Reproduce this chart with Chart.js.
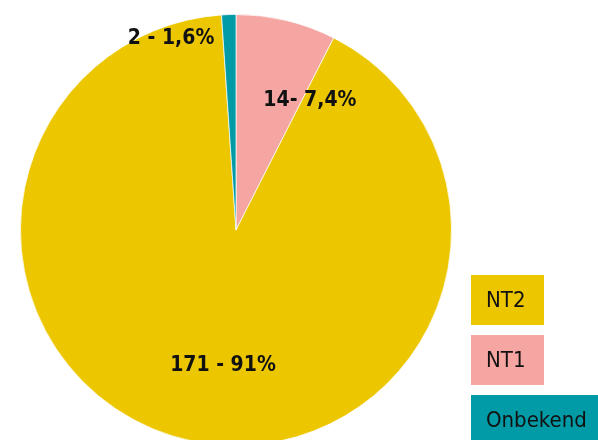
<!DOCTYPE html>
<html>
<head>
<meta charset="utf-8">
<script src="https://cdn.jsdelivr.net/npm/chart.js@4"></script>
<style>
  html, body { margin: 0; padding: 0; background: #fff; overflow: hidden; }
  #wrap { position: relative; width: 598px; height: 446px; }
</style>
</head>
<body>
<div id="wrap"><canvas id="chart"></canvas></div>
<script>
// slice order, clockwise from the top
const categories = ["NT1", "NT2", "Onbekend"]
const counts = [14, 171, 2]
const sliceLabels = ["14- 7,4%", "171 - 91%", "2 - 1,6%"]
const colors = ["#F5A6A3", "#ECC700", "#009BA7"]

// legend order as shown on the right
const legendOrder = ["NT2", "NT1", "Onbekend"]

// label anchor per slice: angle from top (deg) and fraction of radius
const labelSpots = [
  { angle: 29.8, frac: 0.69 },
  { angle: 185.5, frac: 0.63 },
  { angle: -18.7, frac: 0.94 }
]

const sliceText = {
  id: "sliceText",
  afterDatasetsDraw(chart) {
    const ctx = chart.ctx
    const arcs = chart.getDatasetMeta(0).data
    ctx.save()
    ctx.font = "bold 21px 'Liberation Sans Narrow', 'DejaVu Sans Condensed', sans-serif"
    ctx.fillStyle = "#111"
    ctx.textAlign = "center"
    ctx.textBaseline = "middle"
    arcs.forEach((arc, i) => {
      const spot = labelSpots[i]
      const a = spot.angle * Math.PI / 180
      const r = arc.outerRadius * spot.frac
      ctx.fillText(sliceLabels[i], arc.x + r * Math.sin(a), arc.y - r * Math.cos(a))
    })
    ctx.restore()
  }
}

const boxLegend = {
  id: "boxLegend",
  afterDraw(chart) {
    const ctx = chart.ctx
    ctx.save()
    ctx.font = "22px 'DejaVu Sans Condensed', 'Noto Sans', sans-serif"
    ctx.textBaseline = "middle"
    legendOrder.forEach((name, i) => {
      const idx = categories.indexOf(name)
      const y = 275 + i * 60
      const w = Math.max(73, ctx.measureText(name).width + 30)
      ctx.fillStyle = colors[idx]
      ctx.fillRect(471, y, w, 50)
      ctx.fillStyle = "#111"
      ctx.fillText(name, 486, y + 26)
    })
    ctx.restore()
  }
}

new Chart(document.getElementById("chart"), {
  type: "pie",
  data: {
    labels: categories,
    datasets: [{
      data: counts,
      backgroundColor: colors,
      borderColor: "rgba(255,255,255,0.7)",
      borderWidth: 1
    }]
  },
  options: {
    responsive: true,
    maintainAspectRatio: false,
    animation: false,
    layout: { padding: { left: 20, right: 146, top: 14, bottom: 0 } },
    plugins: {
      legend: { display: false },
      tooltip: { enabled: false }
    }
  },
  plugins: [sliceText, boxLegend]
})
</script>
</body>
</html>
